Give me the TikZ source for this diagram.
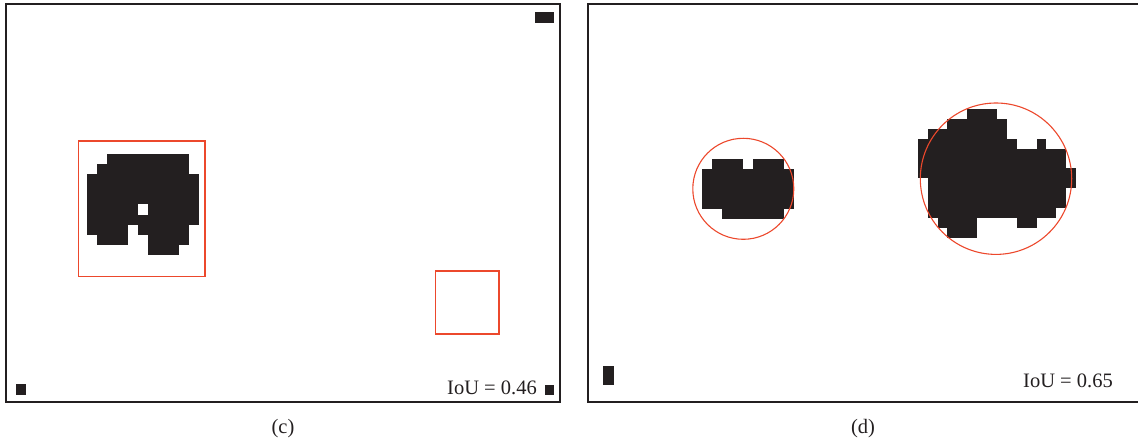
\documentclass[tikz,border=0pt]{standalone}
\usepackage{fontspec}
\setmainfont{Liberation Serif}
\usepackage{tikz}
\usetikzlibrary{positioning}

\definecolor{inkgray}{HTML}{231F20}
\definecolor{boxred}{RGB}{236,72,44}

\begin{document}
\begin{tikzpicture}[
  x=1pt, y=-1pt,
  frame/.style={draw=inkgray, line width=1.1pt},
  blob/.style={fill=inkgray},
  hit/.style={draw=boxred, line width=1.1pt},
  iou/.style={font=\fontsize{20.5}{24}\selectfont, text=inkgray, inner sep=0pt, anchor=base east},
  caption/.style={font=\fontsize{20.5}{24}\selectfont, text=inkgray, inner sep=0pt}
]

\useasboundingbox (0,0) rectangle (1138,443);

% Panel frames
\draw[frame] (6,4) rectangle (560,402);
\draw[frame] (588,4) rectangle (1139.5,402);

% Panel (c): detected blob
\begin{scope}[shift={(86.7,154)}, x=10.2pt, y=-10.1pt]
  \foreach \r/\a/\b in {0/2/10, 1/1/10, 2/0/11, 3/0/11, 4/0/11, 5/0/5, 5/6/11,
                        6/0/11, 7/0/4, 7/5/10, 8/1/4, 8/6/10, 9/6/9}
    \fill[blob] (\a,\r) rectangle (\b,\r+1);
\end{scope}

% Panel (c): small specks
\fill[blob] (535,12) rectangle (554,23);
\fill[blob] (16,384) rectangle (26,395);
\fill[blob] (545,385) rectangle (554,395);

% Panel (c): boxes
\node[hit, minimum width=126.7pt, minimum height=135.7pt, inner sep=0pt] (boxc1) at (141.65,208.85) {};
\node[hit, minimum width=63.3pt, minimum height=63pt, inner sep=0pt] (boxc2) at (467.35,302.5) {};

% Panel (d): left blob
\begin{scope}[shift={(701.7,159)}, x=10.3pt, y=-10pt]
  \foreach \r/\a/\b in {0/1/4, 0/5/8, 1/0/9, 2/0/9, 3/0/9, 4/0/9, 5/2/8}
    \fill[blob] (\a,\r) rectangle (\b,\r+1);
\end{scope}

% Panel (d): right blob
\begin{scope}[shift={(917.7,109)}, x=9.9pt, y=-9.9pt]
  \foreach \r/\a/\b in {0/5/8, 1/3/9, 2/1/9, 3/0/10, 3/12/13, 4/0/15,
                        5/0/15, 6/0/16, 7/1/16, 8/1/15, 9/1/15, 10/1/14,
                        11/2/6, 11/10/12, 12/3/6}
    \fill[blob] (\a,\r) rectangle (\b,\r+1);
\end{scope}

% Panel (d): speck
\fill[blob] (603,366) rectangle (614,385);

% Panel (d): circles
\node[hit, circle, minimum size=101pt, inner sep=0pt] (ringd1) at (743.3,188.8) {};
\node[hit, circle, minimum size=151.4pt, inner sep=0pt] (ringd2) at (996,178.7) {};

% Scores
\node[iou] (iouc) at (537,395) {IoU = 0.46};
\node[iou] (ioud) at (1113,388) {IoU = 0.65};

% Captions
\node[caption] (capc) at (283,429) {(c)};
\node[caption] (capd) at (863,429) {(d)};

\end{tikzpicture}
\end{document}
